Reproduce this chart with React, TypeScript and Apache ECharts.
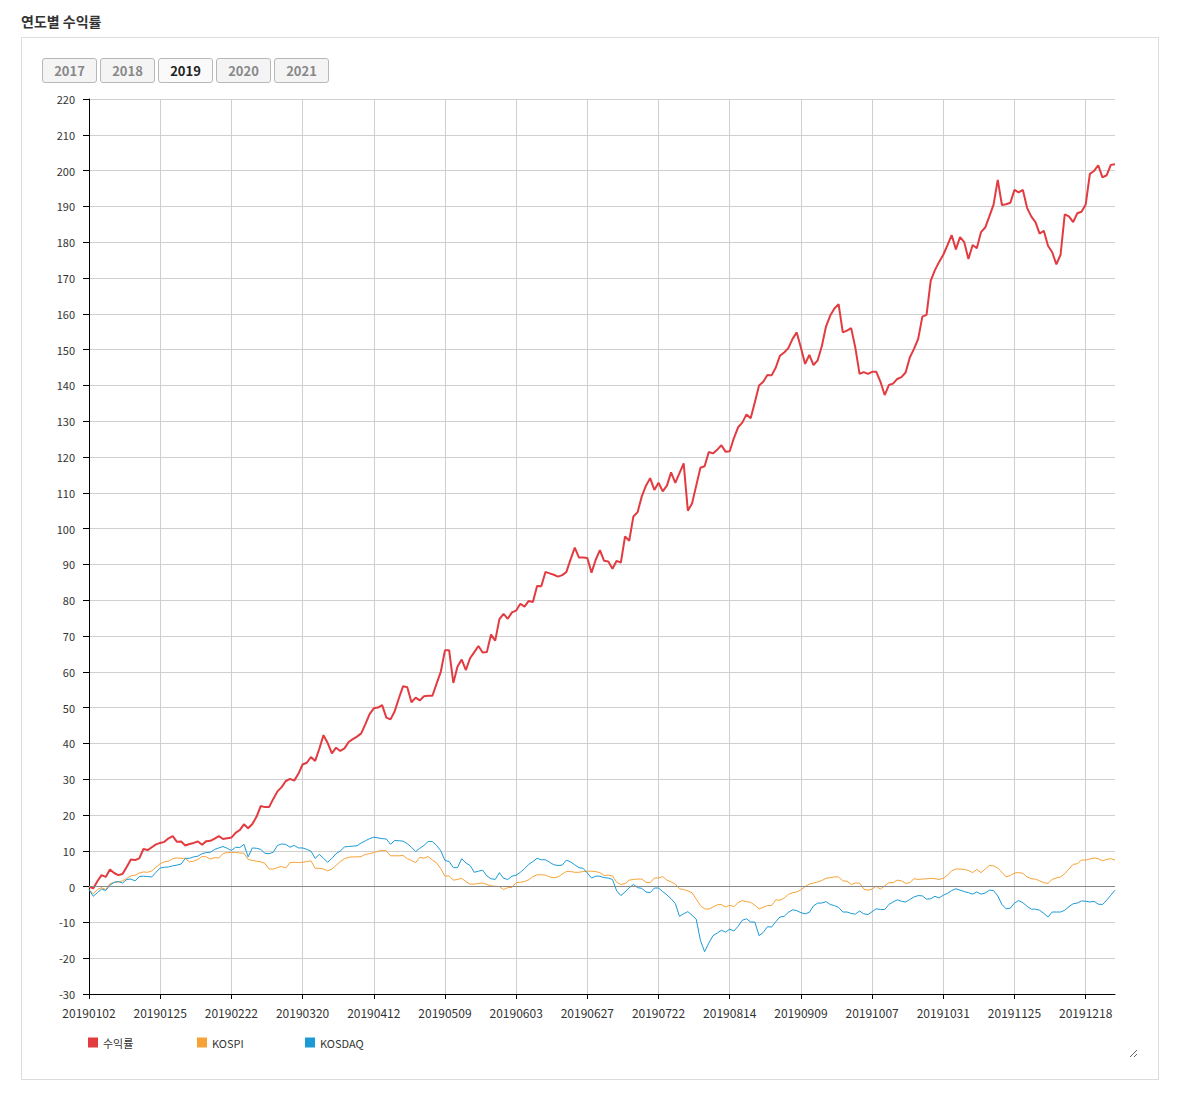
import React, { useEffect, useRef } from "react";
import * as echarts from "echarts";

// ---- data ----
const YEAR_BUTTONS = ["2017", "2018", "2019", "2020", "2021"];
const ACTIVE_YEAR = "2019";
const SERIES_NAMES = ["수익률", "KOSPI", "KOSDAQ"];
const MARKET_HOLIDAYS = [
  "20190101", "20190204", "20190205", "20190206", "20190301", "20190501",
  "20190506", "20190606", "20190815", "20190912", "20190913", "20191003",
  "20191009", "20191225", "20191231",
];

function tradingDays(year: number, holidays: string[]): string[] {
  const out: string[] = [];
  const d = new Date(Date.UTC(year, 0, 1));
  while (d.getUTCFullYear() === year) {
    const wd = d.getUTCDay();
    const s =
      String(d.getUTCFullYear()) +
      String(d.getUTCMonth() + 1).padStart(2, "0") +
      String(d.getUTCDate()).padStart(2, "0");
    if (wd !== 0 && wd !== 6 && holidays.indexOf(s) < 0) out.push(s);
    d.setUTCDate(d.getUTCDate() + 1);
  }
  return out;
}
const DATES = tradingDays(2019, MARKET_HOLIDAYS);

const RETURNS = [
  0, -0.5, 1.5, 3.2, 2.7, 4.8, 3.8, 3.2, 3.5, 5.5,
  7.6, 7.4, 7.9, 10.5, 10.2, 11, 11.8, 12.2, 12.5, 13.5,
  14.1, 12.5, 12.6, 11.5, 11.9, 12.2, 12.6, 11.7, 12.7, 12.8,
  13.4, 14.1, 13.3, 13.5, 13.7, 15, 15.8, 17.4, 16.3, 17.5,
  19.5, 22.5, 22.2, 22.2, 24.5, 26.6, 27.8, 29.5, 30.1, 29.6,
  31.5, 34.1, 34.6, 36.2, 35.1, 38.5, 42.3, 40.1, 37.2, 38.8,
  37.9, 38.6, 40.4, 41.2, 41.9, 42.8, 45.4, 48.2, 49.8, 50.0,
  50.7, 47.2, 46.7, 49.0, 52.6, 56.0, 55.7, 51.5, 52.8, 52.0,
  53.2, 53.3, 53.3, 56.7, 60.0, 66.0, 66.0, 56.9, 61.5, 63.4,
  60.5, 63.8, 65.5, 67.2, 65.4, 65.5, 70.4, 68.7, 74.7, 76.2,
  74.8, 76.6, 77.1, 79.0, 78.2, 79.8, 79.5, 84.0, 83.9, 87.9,
  87.5, 87.1, 86.6, 87.0, 87.9, 91.4, 94.7, 91.9, 91.9, 91.8,
  87.7, 91.3, 94.0, 91.0, 90.8, 88.8, 91.0, 90.5, 97.8, 96.6,
  103.4, 104.6, 109, 112, 114.1, 110.8, 112.8, 110.4, 112, 115.7,
  112.8, 115.5, 118.2, 105, 107, 112, 117, 117.4, 121.4, 121,
  122, 123.3, 121.5, 121.6, 125.3, 128.3, 129.6, 131.9, 130.8, 135.3,
  140, 141, 142.9, 142.8, 145, 148.3, 149.2, 150.4, 153, 154.8,
  150.5, 146, 148.5, 145.7, 147, 151, 156.5, 159.5, 161.5, 162.7,
  154.8, 155.3, 156, 150.5, 143.2, 143.7, 143.2, 143.8, 143.8, 141,
  137.3, 140.1, 140.5, 141.8, 142.3, 143.6, 147.8, 150.2, 153, 159.2,
  159.7, 169.3, 172.2, 174.5, 176.5, 179.2, 182, 178, 181.4, 180,
  175.3, 179.2, 178.3, 182.8, 184.1, 187.2, 190.5, 197.4, 190.4, 190.6,
  191, 194.6, 193.9, 194.6, 189.6, 187.2, 185.6, 182.4, 183.2, 179,
  177.2, 173.8, 176.5, 187.8, 187.2, 185.6, 188.1, 188.5, 190.5, 199.1,
  199.9, 201.5, 198.1, 198.7, 201.6, 201.8,
];

const KOSPI = [
  -0.8, -2.0, -0.8, -0.3, -0.8, 0.8, 1.2, 1.3, 1.6, 2.3,
  3.0, 3.2, 3.8, 4.1, 4.0, 4.4, 5.4, 6.4, 6.9, 7.1,
  7.8, 8.0, 7.9, 7.9, 6.9, 7.1, 7.6, 8.4, 8.3, 7.7,
  8.1, 8.0, 9.2, 9.5, 9.5, 9.5, 9.4, 9.3, 7.6, 7.3,
  7.1, 6.9, 6.5, 4.9, 4.9, 5.3, 5.6, 5.2, 6.7, 6.8,
  6.7, 6.8, 7.0, 7.2, 5.1, 5.1, 4.9, 4.4, 4.9, 5.9,
  7.0, 7.8, 8.2, 8.3, 8.3, 8.4, 9.0, 9.2, 9.5, 9.9,
  10.1, 10.0, 8.6, 8.6, 8.6, 8.7, 7.8, 7.3, 6.7, 8.2,
  7.9, 8.4, 7.4, 6.6, 5.0, 2.9, 3.0, 1.8, 2.0, 2.3,
  1.4, 0.7, 0.7, 0.9, 1.0, 0.6, 0.2, 0.1, 0.0, -0.8,
  -0.3, -0.2, 1.1, 1.2, 1.4, 1.9, 2.8, 3.3, 3.3, 3.2,
  2.7, 2.5, 2.7, 3.5, 4.2, 4.2, 4.0, 4.0, 4.2, 4.3,
  4.3, 4.2, 3.9, 3.1, 3.2, 3.0, 1.2, 0.6, 0.8, 1.8,
  2.0, 2.1, 2.1, 1.2, 1.1, 2.4, 2.4, 2.8, 1.8, 1.3,
  0.7, -0.6, -0.8, -1.2, -1.7, -3.5, -5.3, -6.2, -6.3, -5.7,
  -5.1, -5.0, -5.7, -5.2, -5.6, -4.5, -3.9, -4.2, -4.4, -5.2,
  -6.2, -5.8, -5.3, -5.3, -3.7, -3.8, -3.2, -2.2, -1.7, -1.5,
  -0.9, 0.0, 0.7, 1.0, 1.3, 1.7, 2.3, 2.5, 2.7, 2.7,
  1.6, 1.5, 0.6, 1.0, 1.0, -0.7, -1.0, -0.7, 0.1, -0.7,
  0.2, 1.1, 1.1, 1.8, 1.6, 0.9, 1.1, 2.2, 2.0, 2.1,
  2.2, 2.3, 2.2, 2.0, 2.3, 3.2, 4.4, 4.9, 4.9, 4.8,
  4.5, 3.9, 4.8, 3.9, 4.9, 5.9, 5.8, 5.2, 4.0, 2.7,
  3.1, 3.8, 3.9, 3.7, 2.7, 2.2, 2.1, 1.6, 1.1, 0.9,
  2.0, 2.4, 2.7, 3.6, 4.9, 6.2, 6.4, 7.4, 7.4, 7.7,
  8.0, 7.8, 7.2, 7.6, 7.8, 7.4,
];

const KOSDAQ = [
  -0.8, -2.7, -1.7, -0.7, -1.1, 0.4, 1.2, 1.4, 1.0, 2.0,
  2.1, 1.6, 2.8, 2.9, 2.8, 2.7, 4.0, 5.2, 5.4, 5.5,
  5.8, 6.0, 6.3, 7.9, 7.9, 8.3, 8.5, 9.2, 9.5, 9.6,
  10.4, 10.8, 11.2, 10.7, 10.1, 11.0, 10.9, 11.8, 8.3, 10.8,
  10.7, 10.4, 9.3, 9.2, 9.6, 11.5, 11.9, 11.8, 11.0, 11.5,
  10.8, 10.8, 10.4, 9.9, 7.9, 9.0, 7.9, 6.8, 7.9, 9.2,
  9.9, 11.1, 11.2, 11.3, 11.4, 12.2, 12.8, 13.4, 13.8, 13.6,
  13.4, 13.3, 11.8, 12.9, 12.8, 12.7, 12.0, 11.0, 9.8, 10.7,
  11.5, 12.6, 12.6, 11.5, 10.0, 7.3, 7.0, 5.3, 5.3, 7.8,
  6.6, 5.9, 4.0, 4.3, 4.6, 3.0, 2.2, 2.0, 3.9, 2.3,
  2.0, 2.9, 3.2, 4.0, 5.0, 6.2, 7.0, 7.9, 7.5, 7.5,
  6.8, 6.1, 5.9, 6.0, 7.4, 6.9, 6.1, 5.3, 5.1, 3.8,
  2.4, 2.9, 2.9, 2.5, 2.4, 2.0, -1.2, -2.5, -1.5, -0.3,
  0.6, -0.3, -0.5, -1.5, -1.7, -0.4, -0.4, -1.4, -2.3, -3.4,
  -4.7, -8.3, -7.6, -7.0, -8.0, -9.1, -15.0, -18.2, -15.8, -13.7,
  -13.0, -12.2, -12.7, -11.9, -12.4, -11.1, -9.4, -9.0, -9.9, -9.9,
  -13.7, -12.8, -11.2, -11.3, -9.8, -8.5, -8.3, -7.2, -6.5, -6.7,
  -7.3, -7.6, -7.2, -5.4, -4.6, -4.6, -4.2, -5.0, -5.3, -5.8,
  -7.1, -7.1, -7.5, -7.7, -6.8, -7.6, -7.8, -7.0, -6.2, -6.4,
  -6.4, -5.0, -4.3, -3.7, -4.1, -4.3, -3.6, -2.9, -2.5, -2.6,
  -3.5, -3.4, -2.7, -3.2, -2.4, -1.9, -1.1, -0.6, -1.0, -1.4,
  -1.7, -2.1, -1.5, -2.1, -1.8, -1.0, -1.1, -2.6, -5.0, -6.2,
  -6.0, -4.6, -3.9, -4.5, -5.5, -6.3, -6.3, -6.6, -7.5, -8.5,
  -7.1, -7.1, -7.1, -6.6, -5.6, -4.8, -4.6, -4.0, -4.1, -4.3,
  -4.1, -4.9, -5.0, -3.8, -2.4, -1.0,
];

const Y_MIN = -30;
const Y_MAX = 220;
const Y_STEP = 10;
const LABEL_EVERY = 16;

const FONT = "'Malgun Gothic', 'Noto Sans CJK KR', 'Noto Sans', sans-serif";
const COLORS = ["#e23b40", "#f7a236", "#1b9ad6"];

function Chart() {
  const ref = useRef<HTMLDivElement>(null);
  useEffect(() => {
    if (!ref.current) return;
    const chart = echarts.init(ref.current, undefined, { renderer: "svg" });
    const legendLefts = [47, 156, 264];
    chart.setOption({
      animation: false,
      textStyle: { fontFamily: FONT },
      color: COLORS,
      grid: { left: 48, right: 23, top: 11, bottom: 64, containLabel: false },
      legend: SERIES_NAMES.map((n, i) => ({
        data: [n],
        left: legendLefts[i],
        top: 949,
        padding: 0,
        icon: "rect",
        itemWidth: 10,
        itemHeight: 10,
        selectedMode: false,
        textStyle: { fontSize: 11, color: "#333", fontFamily: FONT },
      })),
      xAxis: {
        type: "category",
        data: DATES,
        boundaryGap: false,
        axisLine: { show: true, onZero: false, lineStyle: { color: "#000", width: 1 } },
        axisTick: { show: true, interval: LABEL_EVERY, length: 5, lineStyle: { color: "#000" } },
        axisLabel: {
          interval: LABEL_EVERY,
          margin: 12,
          fontSize: 12,
          color: "#333",
          fontFamily: FONT,
        },
        splitLine: { show: true, interval: LABEL_EVERY, lineStyle: { color: "#cfcfcf", width: 1 } },
      },
      yAxis: {
        type: "value",
        min: Y_MIN,
        max: Y_MAX,
        interval: Y_STEP,
        axisLine: { show: true, lineStyle: { color: "#000", width: 1 } },
        axisTick: { show: true, length: 6, lineStyle: { color: "#000" } },
        axisLabel: { margin: 14, fontSize: 11, color: "#333", fontFamily: FONT },
        splitLine: { show: true, lineStyle: { color: "#cfcfcf", width: 1 } },
      },
      series: [
        {
          name: SERIES_NAMES[0],
          type: "line",
          data: RETURNS,
          showSymbol: false,
          symbol: "none",
          z: 4,
          lineStyle: { width: 2, color: COLORS[0] },
          itemStyle: { color: COLORS[0] },
        },
        {
          name: SERIES_NAMES[1],
          type: "line",
          data: KOSPI,
          showSymbol: false,
          symbol: "none",
          z: 3,
          lineStyle: { width: 1, color: COLORS[1] },
          itemStyle: { color: COLORS[1] },
          markLine: {
            silent: true,
            symbol: "none",
            label: { show: false },
            lineStyle: { color: "#888", type: "solid", width: 1 },
            data: [{ yAxis: 0 }],
          },
        },
        {
          name: SERIES_NAMES[2],
          type: "line",
          data: KOSDAQ,
          showSymbol: false,
          symbol: "none",
          z: 3,
          lineStyle: { width: 1, color: COLORS[2] },
          itemStyle: { color: COLORS[2] },
        },
      ],
    });
    return () => chart.dispose();
  }, []);
  return (
    <div
      ref={ref}
      style={{
        position: "absolute",
        left: 41,
        top: 88,
        width: 1097,
        height: 970,
        resize: "both",
        overflow: "hidden",
      }}
    />
  );
}

export default function App() {
  return (
    <div
      style={{
        position: "absolute",
        left: 0,
        top: 0,
        width: 1181,
        height: 1102,
        background: "#fff",
        fontFamily: FONT,
      }}
    >
      <div
        style={{
          position: "absolute",
          left: 21,
          top: 11,
          fontSize: 14,
          fontWeight: "bold",
          color: "#333",
          whiteSpace: "nowrap",
        }}
      >
        연도별 수익률
      </div>
      <div
        style={{
          position: "absolute",
          left: 21,
          top: 37,
          width: 1136,
          height: 1041,
          border: "1px solid #dcdcdc",
        }}
      />
      {YEAR_BUTTONS.map((y, i) => (
        <div
          key={y}
          style={{
            position: "absolute",
            left: 42 + i * 58,
            top: 58,
            width: 53,
            height: 23,
            border: "1px solid #b8b8b8",
            borderRadius: 3,
            background: y === ACTIVE_YEAR ? "#fafafa" : "#f4f4f4",
            color: y === ACTIVE_YEAR ? "#222" : "#888",
            fontSize: 13,
            fontWeight: 600,
            lineHeight: "23px",
            textAlign: "center",
            boxSizing: "content-box",
          }}
        >
          {y}
        </div>
      ))}
      <Chart />
    </div>
  );
}
